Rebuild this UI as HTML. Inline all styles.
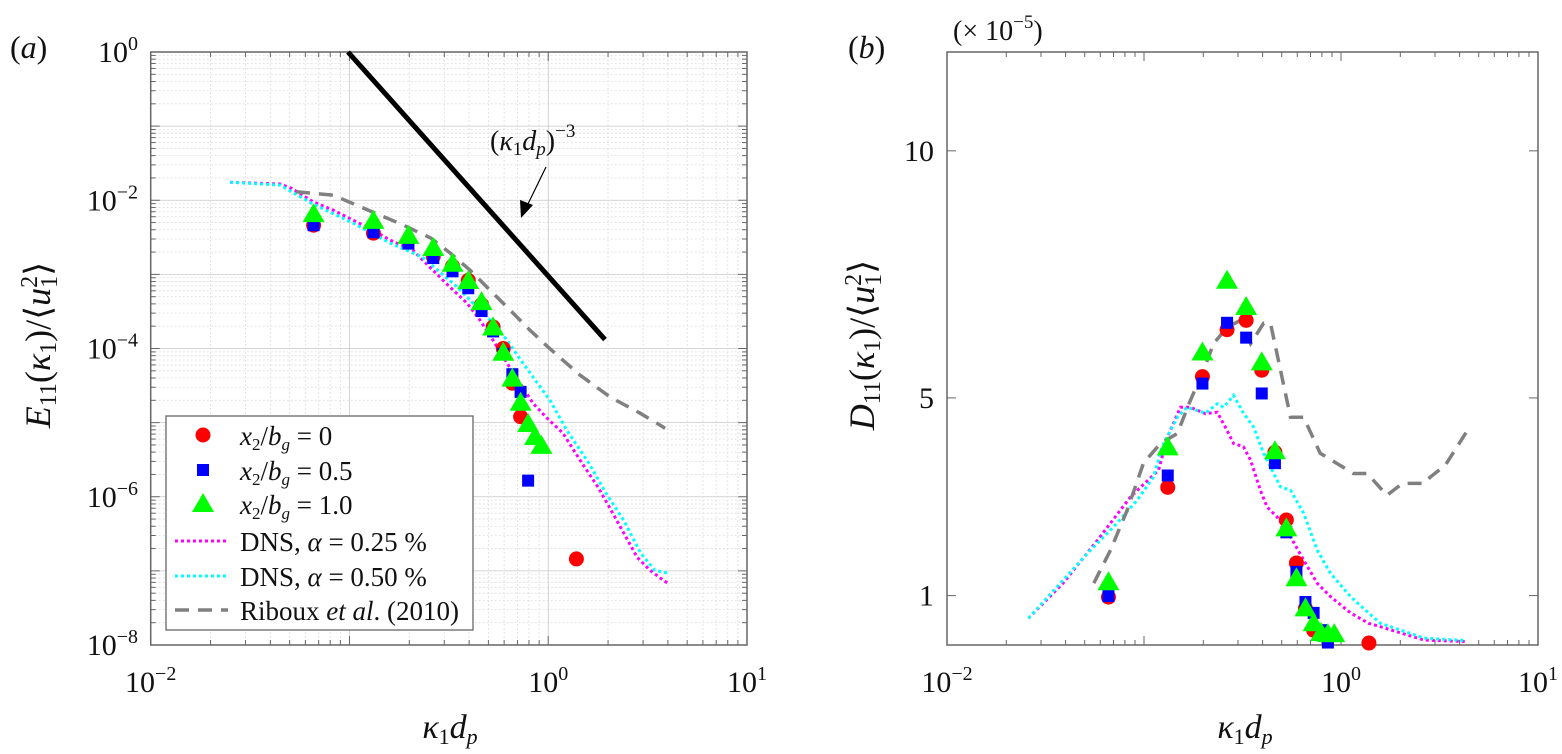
<!DOCTYPE html>
<html><head><meta charset="utf-8"><style>
html,body{margin:0;padding:0;background:#fff;}
svg{display:block;font-family:"Liberation Serif",serif;}
</style></head><body>
<svg id="fig" width="1562" height="754" viewBox="0 0 1562 754" xmlns="http://www.w3.org/2000/svg">
<g id="pa"></g>
<g id="pb"></g>
</svg>
<script>
// ---------- shared data ----------
const kx = [0.066,0.132,0.198,0.264,0.33,0.396,0.462,0.528,0.594,0.66,0.726,0.792,0.858,0.924,1.386];
// panel a (E11)
const aCircX = [0.066,0.132,0.198,0.264,0.33,0.396,0.462,0.528,0.594,0.66,0.726,1.386];
const aCircY = [4.6e-3,3.6e-3,2.9e-3,1.74e-3,1.29e-3,8.3e-4,3.9e-4,1.95e-4,1.0e-4,3.4e-5,1.2e-5,1.45e-7];
const aSqX = [0.066,0.132,0.198,0.264,0.33,0.396,0.462,0.528,0.594,0.66,0.726,0.792];
const aSqY = [4.6e-3,3.7e-3,2.6e-3,1.66e-3,1.1e-3,6.5e-4,3.2e-4,1.7e-4,8.5e-5,4.5e-5,2.6e-5,1.65e-6];
const aTriX = [0.066,0.132,0.198,0.264,0.33,0.396,0.462,0.528,0.594,0.66,0.726,0.792,0.858,0.924];
const aTriY = [6.3e-3,5.1e-3,3.2e-3,2.2e-3,1.35e-3,7.9e-4,4.1e-4,1.86e-4,8.5e-5,3.8e-5,1.8e-5,9.3e-6,6.2e-6,4.7e-6];
const aDns25X = [0.0251,0.0447,0.0512,0.0655,0.0826,0.1042,0.131,0.160,0.208,0.263,0.320,0.390,0.453,0.527,0.620,0.721,0.838,0.986,1.186,1.445,1.78,2.07,2.40,2.80,3.25,3.78,4.0];
const aDns25Y = [0.01745,0.01655,0.01449,0.00955,0.00738,0.0054,0.00396,0.0029,0.00213,0.00114,6.75e-4,4.1e-4,2.42e-4,1.30e-4,6.35e-5,3.41e-5,1.83e-5,1.15e-5,7.2e-6,3.12e-6,1.35e-6,6.6e-7,3.23e-7,1.53e-7,1.02e-7,7.5e-8,6.8e-8];
const aDns50X = [0.0251,0.0447,0.0655,0.1042,0.160,0.233,0.348,0.438,0.509,0.620,0.746,1.02,1.24,1.60,1.95,2.40,2.92,3.43,4.0];
const aDns50Y = [0.0175,0.0160,0.0089,0.00492,0.00264,0.00171,6.75e-4,3.62e-4,2.42e-4,1.30e-4,6.35e-5,2.0e-5,7.9e-6,2.84e-6,1.12e-6,4.8e-7,1.73e-7,1.02e-7,9.3e-8];
const aRibX = [0.0538,0.0826,0.131,0.1815,0.257,0.321,0.404,0.509,0.643,0.809,1.0,1.445,2.05,2.90,3.87];
const aRibY = [0.0130,0.01175,0.00693,0.00478,0.00309,0.00194,0.00114,6.14e-4,3.3e-4,1.77e-4,1.04e-4,4.38e-5,2.21e-5,1.34e-5,8.4e-6];
const slopeX = [0.0983,1.93];
const aXTicks = [0.01,1,10];
const aXTickLabels = ["-2","0","1"];
const aYTicks = [1,1e-2,1e-4,1e-6,1e-8];
const aYTickLabels = ["0","-2","-4","-6","-8"];
// panel b (D11, ×1e-5)
const bCircY = [0.97,3.19,5.43,6.38,6.57,5.56,3.9,2.53,1.66,0.74,0.30,0.04];
const bCircX = [0.066,0.132,0.198,0.264,0.33,0.396,0.462,0.528,0.594,0.66,0.726,1.386];
const bSqX = [0.066,0.132,0.198,0.264,0.33,0.396,0.462,0.528,0.594,0.66,0.726,0.792,0.858];
const bSqY = [0.99,3.43,5.29,6.52,6.22,5.09,3.68,2.28,1.48,0.87,0.65,0.3,0.05];
const bTriX = [0.066,0.132,0.198,0.264,0.33,0.396,0.462,0.528,0.594,0.66,0.726,0.792,0.858,0.924];
const bTriY = [1.25,3.98,5.9,7.35,6.82,5.7,3.9,2.34,1.33,0.72,0.42,0.22,0.2,0.2];
const bDns25X = [0.0259,0.0388,0.0581,0.0855,0.1186,0.1316,0.1531,0.172,0.205,0.2355,0.264,0.2845,0.32,0.3475,0.39,0.4217,0.474,0.5545,0.6457,0.757,0.885,1.117,1.38,1.585,2.64,4.27];
const bDns25Y = [0.54,1.25,2.12,3.0,3.54,4.21,4.81,4.81,4.68,4.71,4.34,4.08,4.01,3.74,3.13,2.79,2.59,2.19,1.72,1.25,0.98,0.65,0.44,0.37,0.10,0.07];
const bDns50X = [0.0259,0.0535,0.07,0.0923,0.1117,0.1236,0.1475,0.1656,0.205,0.2355,0.2535,0.2845,0.32,0.36,0.4045,0.493,0.5545,0.6457,0.757,0.885,1.117,1.38,1.585,2.64,4.27];
const bDns50Y = [0.54,1.92,2.39,2.93,3.40,4.01,4.61,4.81,4.69,4.88,4.81,5.05,4.69,4.41,3.88,3.20,3.13,2.67,1.92,1.45,0.98,0.65,0.44,0.14,0.09];
const bRibX = [0.0556,0.0676,0.0822,0.0994,0.1213,0.1475,0.172,0.2005,0.2255,0.264,0.309,0.3475,0.4045,0.4385,0.493,0.5545,0.6457,0.784,0.957,1.156,1.36,1.71,2.05,2.64,2.84,3.39,4.38];
const bRibY = [1.25,1.92,2.73,3.68,4.08,4.28,4.95,5.56,6.10,6.43,6.57,6.10,6.51,6.51,5.56,4.61,4.61,3.88,3.67,3.47,3.47,3.03,3.27,3.27,3.40,3.64,4.34];
const bXTicks = [0.01,1,10];
const bXTickLabels = ["-2","0","1"];
const bYTicks = [1,5,10];

const NS = "http://www.w3.org/2000/svg";
function mk(parent, tag, attrs){
  const e = document.createElementNS(NS, tag);
  for (const k in attrs) e.setAttribute(k, attrs[k]);
  parent.appendChild(e); return e;
}
const TOP=52, BOT=645;
const aL=150.7, aR=747;
const axA = v => aL + (Math.log10(v)+2)/3*(aR-aL);
const ayA = v => TOP + (-Math.log10(v))/8*(BOT-TOP);
const bL=947, bR=1538;
const axB = v => bL + (Math.log10(v)+2)/3*(bR-bL);
const ayB = v => BOT - v/12*(BOT-TOP);

function logXTicks(g, L, R, ax, grid){
  for (let d=-2; d<1; d++){
    for (let m=1; m<10; m++){
      const v = m*Math.pow(10,d); const x = ax(v);
      if (grid){ const gl = mk(g,'line',{x1:x,x2:x,y1:TOP,y2:BOT,stroke:m===1?'#c8c8c8':'#dedede','stroke-width':0.8,'stroke-dasharray':m===1?'none':'2 2'});
          }
      const len = m===1?9:5;
      mk(g,'line',{x1:x,x2:x,y1:BOT,y2:BOT-len,stroke:'#666','stroke-width':1});
      mk(g,'line',{x1:x,x2:x,y1:TOP,y2:TOP+len,stroke:'#666','stroke-width':1});
    }
  }
}
function supLabel(g, x, y, exp, anchor, name){
  const t = mk(g,'text',{x:x,y:y,'font-size':30,'text-anchor':anchor,fill:'#111'});
  
  
  const a = mk(t,'tspan',{}); a.textContent='10';
  const b = mk(t,'tspan',{dy:-12,'font-size':20}); b.textContent=(exp.startsWith('-')?'\u2212'+exp.slice(1):exp);
  return t;
}
function marker(g, type, x, y){
  let e;
  if (type==='c') e = mk(g,'circle',{cx:x,cy:y,r:7.5,fill:'#ff0000'});
  else if (type==='s') e = mk(g,'rect',{x:x-6,y:y-6,width:12,height:12,fill:'#0000ff'});
  else e = mk(g,'polygon',{points:`${x},${y-12} ${x-11},${y+7} ${x+11},${y+7}`,fill:'#00ff00'});
  return e;
}
function path(g, xs, ys, ax, ay, attrs){
  const d = xs.map((v,i)=>(i?'L':'M')+ax(v).toFixed(1)+','+ay(ys[i]).toFixed(1)).join(' ');
  return mk(g,'path',Object.assign({d:d,fill:'none'},attrs));
}
const DOT25={stroke:'#ff00ff','stroke-width':3,'stroke-dasharray':'3 3'};
const DOT50={stroke:'#00ffff','stroke-width':3,'stroke-dasharray':'3 3'};
const DASH={stroke:'#808080','stroke-width':3.5,'stroke-dasharray':'14 9'};

// ======== PANEL A ========
const pa = document.getElementById('pa');
for (let d=-8; d<0; d++){
  for (let m=1; m<10; m++){
    const y = ayA(m*Math.pow(10,d));
    const gl = mk(pa,'line',{x1:aL,x2:aR,y1:y,y2:y,stroke:m===1?'#c8c8c8':'#dedede','stroke-width':0.8,'stroke-dasharray':m===1?'none':'2 2'});
    
    
    const len = m===1?9:5;
    mk(pa,'line',{x1:aL,x2:aL+len,y1:y,y2:y,stroke:'#666','stroke-width':1});
    mk(pa,'line',{x1:aR,x2:aR-len,y1:y,y2:y,stroke:'#666','stroke-width':1});
  }
}
logXTicks(pa, aL, aR, axA, true);
const fa = mk(pa,'rect',{x:aL,y:TOP,width:aR-aL,height:BOT-TOP,fill:'none',stroke:'#666','stroke-width':1.5});


aXTicks.forEach((v,i)=>{ supLabel(pa, axA(v), 692, aXTickLabels[i], 'middle', 'x-tick-label'); });
aYTicks.forEach((v,i)=>{ supLabel(pa, 138, ayA(v)+10, aYTickLabels[i], 'end', 'y-tick-label'); });
const sl = mk(pa,'line',{x1:axA(slopeX[0]),y1:ayA(1),x2:axA(slopeX[1]),y2:ayA(Math.pow(slopeX[1]/slopeX[0],-3)),stroke:'#000','stroke-width':5});


const an = mk(pa,'text',{x:490,y:150,'font-size':28,fill:'#111'});


an.innerHTML='(<tspan font-style="italic">κ</tspan><tspan font-size="19" dy="5">1</tspan><tspan font-style="italic" dy="-5">d</tspan><tspan font-style="italic" font-size="19" dy="5">p</tspan><tspan dy="-5">)</tspan><tspan font-size="19" dy="-13">−3</tspan>';
const ar = mk(pa,'line',{x1:546,y1:167,x2:526,y2:208,stroke:'#000','stroke-width':1.2});


const ah = mk(pa,'polygon',{points:'521,218 520,200 533,205',fill:'#000'});


const a1 = path(pa,aDns25X,aDns25Y,axA,ayA,DOT25);
 
const a2 = path(pa,aDns50X,aDns50Y,axA,ayA,DOT50);
 
const a3 = path(pa,aRibX,aRibY,axA,ayA,DASH);
 
aCircX.forEach((v,i)=>{ const m=marker(pa,'c',axA(v),ayA(aCircY[i]));
    });
aSqX.forEach((v,i)=>{ const m=marker(pa,'s',axA(v),ayA(aSqY[i]));
    });
aTriX.forEach((v,i)=>{ const m=marker(pa,'t',axA(v),ayA(aTriY[i]));
    });
</script>
<script>
(function(){
const pa=document.getElementById('pa');
const lg = mk(pa,'g',{});
 
mk(lg,'rect',{x:166,y:416,width:307,height:214,fill:'#fff',stroke:'#666','stroke-width':1.3});
const rows=[435,470,504,541,576,610];
const labels=[
 '<tspan font-style="italic">x</tspan><tspan font-size="17" dy="5">2</tspan><tspan dy="-5">/</tspan><tspan font-style="italic">b</tspan><tspan font-style="italic" font-size="17" dy="5">g</tspan><tspan dy="-5"> = 0</tspan>',
 '<tspan font-style="italic">x</tspan><tspan font-size="17" dy="5">2</tspan><tspan dy="-5">/</tspan><tspan font-style="italic">b</tspan><tspan font-style="italic" font-size="17" dy="5">g</tspan><tspan dy="-5"> = 0.5</tspan>',
 '<tspan font-style="italic">x</tspan><tspan font-size="17" dy="5">2</tspan><tspan dy="-5">/</tspan><tspan font-style="italic">b</tspan><tspan font-style="italic" font-size="17" dy="5">g</tspan><tspan dy="-5"> = 1.0</tspan>',
 'DNS, <tspan font-style="italic">α</tspan> = 0.25 %',
 'DNS, <tspan font-style="italic">α</tspan> = 0.50 %',
 'Riboux <tspan font-style="italic">et al</tspan>. (2010)'];
const names=['legend-entry-x2-0','legend-entry-x2-05','legend-entry-x2-10','legend-entry-dns-025','legend-entry-dns-050','legend-entry-riboux'];
rows.forEach((y,i)=>{
  const e=mk(lg,'g',{});
   
  if(i<3) marker(e,['c','s','t'][i],203,y+(i===2?1:0));
  else mk(e,'line',Object.assign({x1:175,x2:228,y1:y,y2:y},[DOT25,DOT50,DASH][i-3]));
  const t=mk(e,'text',{x:240,y:y+10,'font-size':27,fill:'#111'}); t.innerHTML=labels[i];
});
const yl=mk(pa,'text',{transform:'translate(50,345) rotate(-90)','text-anchor':'middle','font-size':36,fill:'#111'});
 
yl.innerHTML='<tspan font-style="italic">E</tspan><tspan font-size="24" dy="6">11</tspan><tspan dy="-6">(</tspan><tspan font-style="italic">κ</tspan><tspan font-size="24" dy="6">1</tspan><tspan dy="-6">)/⟨</tspan><tspan font-style="italic">u</tspan><tspan font-size="24" dy="-13">2</tspan><tspan font-size="24" dx="-12" dy="20">1</tspan><tspan dy="-7">⟩</tspan>';
const xl=mk(pa,'text',{x:450,y:738,'text-anchor':'middle','font-size':34,fill:'#111'});
 
xl.innerHTML='<tspan font-style="italic">κ</tspan><tspan font-size="22" dy="6">1</tspan><tspan font-style="italic" dy="-6">d</tspan><tspan font-style="italic" font-size="22" dy="6">p</tspan>';
const pl=mk(pa,'text',{x:10,y:58,'font-size':32,fill:'#111'});
 
pl.innerHTML='(<tspan font-style="italic">a</tspan>)';
})();
</script>
<script>
(function(){
const pb=document.getElementById('pb');
logXTicks(pb,bL,bR,axB,false);
bYTicks.forEach(v=>{ const y=ayB(v);
  mk(pb,'line',{x1:bL,x2:bL+9,y1:y,y2:y,stroke:'#666','stroke-width':1});
  mk(pb,'line',{x1:bR,x2:bR-9,y1:y,y2:y,stroke:'#666','stroke-width':1});
  const t=mk(pb,'text',{x:934,y:y+10,'font-size':30,'text-anchor':'end',fill:'#111'});
   
  t.textContent=String(v);
});
const fb=mk(pb,'rect',{x:bL,y:TOP,width:bR-bL,height:BOT-TOP,fill:'none',stroke:'#666','stroke-width':1.5});
 
bXTicks.forEach((v,i)=>{ supLabel(pb, axB(v), 692, bXTickLabels[i], 'middle', 'x-tick-label'); });
const b1=path(pb,bDns25X,bDns25Y,axB,ayB,DOT25);
 
const b2=path(pb,bDns50X,bDns50Y,axB,ayB,DOT50);
 
const b3=path(pb,bRibX,bRibY,axB,ayB,DASH);
 
bCircX.forEach((v,i)=>{ const m=marker(pb,'c',axB(v),ayB(bCircY[i]));
    });
bSqX.forEach((v,i)=>{ const m=marker(pb,'s',axB(v),ayB(bSqY[i]));
    });
bTriX.forEach((v,i)=>{ const m=marker(pb,'t',axB(v),ayB(bTriY[i]));
    });
const sc=mk(pb,'text',{x:953,y:40,'font-size':28,fill:'#111'});
 
sc.innerHTML='(× 10<tspan font-size="19" dy="-12">−5</tspan><tspan dy="12">)</tspan>';
const yl=mk(pb,'text',{transform:'translate(874,345) rotate(-90)','text-anchor':'middle','font-size':36,fill:'#111'});
 
yl.innerHTML='<tspan font-style="italic">D</tspan><tspan font-size="24" dy="6">11</tspan><tspan dy="-6">(</tspan><tspan font-style="italic">κ</tspan><tspan font-size="24" dy="6">1</tspan><tspan dy="-6">)/⟨</tspan><tspan font-style="italic">u</tspan><tspan font-size="24" dy="-13">2</tspan><tspan font-size="24" dx="-12" dy="20">1</tspan><tspan dy="-7">⟩</tspan>';
const xl=mk(pb,'text',{x:1245,y:738,'text-anchor':'middle','font-size':34,fill:'#111'});
 
xl.innerHTML='<tspan font-style="italic">κ</tspan><tspan font-size="22" dy="6">1</tspan><tspan font-style="italic" dy="-6">d</tspan><tspan font-style="italic" font-size="22" dy="6">p</tspan>';
const pl=mk(pb,'text',{x:848,y:58,'font-size':32,fill:'#111'});
 
pl.innerHTML='(<tspan font-style="italic">b</tspan>)';
})();
</script>
</body></html>
